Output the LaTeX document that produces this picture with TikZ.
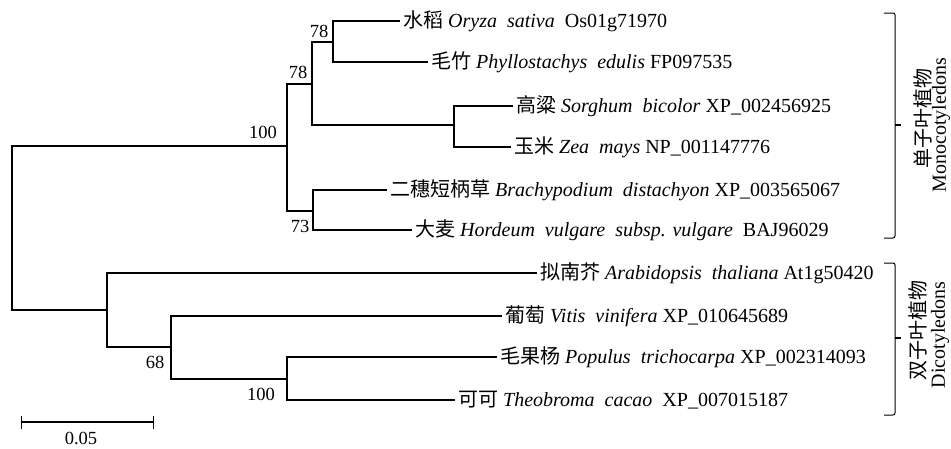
\documentclass[tikz,border=0pt]{standalone}
\usepackage{fontspec}
\setmainfont{Liberation Serif}
\newfontfamily\cjk{Noto Sans CJK SC}
\usetikzlibrary{arrows.meta}

\begin{document}
\begin{tikzpicture}[x=1pt,y=1pt,
        branch/.style={line width=1.1pt},
        leaf/.style={anchor=west,inner sep=3pt,font=\fontsize{20}{24}\selectfont},
        boot/.style={inner sep=0pt,font=\fontsize{18.5}{22}\selectfont},
        group/.style={rotate=90,inner sep=0pt,font=\fontsize{20}{24}\selectfont},
        brace/.style={line width=1pt,rounded corners=2pt},
    ]
        \useasboundingbox (0,0) rectangle (951,-448);

        % inner nodes
        \coordinate (root)  at (12,-228);
        \coordinate (mono)  at (287,-146);
        \coordinate (pooA)  at (312,-84);
        \coordinate (pooB)  at (333,-42);
        \coordinate (pani)  at (454,-125);
        \coordinate (pooC)  at (313,-211);
        \coordinate (dico)  at (107,-310);
        \coordinate (rosA)  at (171,-347);
        \coordinate (rosB)  at (287,-379);

        % monocots
        \node (oryza)   at (400,-21)  [leaf] {{\cjk 水稻} \textit{Oryza\ \ sativa}\ \ Os01g71970};
        \node (phyllo)  at (428,-62)  [leaf] {{\cjk 毛竹} \textit{Phyllostachys\ \ edulis} FP097535};
        \node (sorghum) at (513,-106) [leaf] {{\cjk 高粱} \textit{Sorghum\ \ bicolor} XP\_002456925};
        \node (zea)     at (511,-147) [leaf] {{\cjk 玉米} \textit{Zea\ \ mays} NP\_001147776};
        \node (brachy)  at (387,-190) [leaf] {{\cjk 二穗短柄草} \textit{Brachypodium\ \ distachyon} XP\_003565067};
        \node (hordeum) at (412,-230) [leaf] {{\cjk 大麦} \textit{Hordeum\ \ vulgare\ \ subsp. vulgare}\ \ BAJ96029};

        % dicots
        \node (arabid)  at (537,-273) [leaf] {{\cjk 拟南芥} \textit{Arabidopsis\ \ thaliana} At1g50420};
        \node (vitis)   at (502,-316) [leaf] {{\cjk 葡萄} \textit{Vitis\ \ vinifera} XP\_010645689};
        \node (populus) at (497,-357) [leaf] {{\cjk 毛果杨} \textit{Populus\ \ trichocarpa} XP\_002314093};
        \node (theo)    at (455,-400) [leaf] {{\cjk 可可} \textit{Theobroma\ \ cacao}\ \ XP\_007015187};

        % branches
        \draw[branch] (root) |- (mono);
        \draw[branch] (root) |- (dico);
        \draw[branch] (mono) |- (pooA);
        \draw[branch] (mono) |- (pooC);
        \draw[branch] (pooA) |- (pooB);
        \draw[branch] (pooA) |- (pani);
        \draw[branch] (pooB) |- (oryza.west);
        \draw[branch] (pooB) |- (phyllo.west);
        \draw[branch] (pani) |- (sorghum.west);
        \draw[branch] (pani) |- (zea.west);
        \draw[branch] (pooC) |- (brachy.west);
        \draw[branch] (pooC) |- (hordeum.west);
        \draw[branch] (dico) |- (arabid.west);
        \draw[branch] (dico) |- (rosA);
        \draw[branch] (rosA) |- (vitis.west);
        \draw[branch] (rosA) |- (rosB);
        \draw[branch] (rosB) |- (populus.west);
        \draw[branch] (rosB) |- (theo.west);

        % bootstrap values
        \node (bsB) at (319,-31)  [boot] {78};
        \node (bsA) at (298,-72)  [boot] {78};
        \node (bsM) at (263,-132) [boot] {100};
        \node (bsC) at (300,-226) [boot] {73};
        \node (bsR) at (155,-362) [boot] {68};
        \node (bsP) at (261,-394) [boot] {100};

        % scale bar
        \coordinate (barL) at (21,-422);
        \coordinate (barR) at (154,-422);
        \draw[branch,{Bar[width=13pt]}-{Bar[width=13pt]}] (barL) -- (barR);
        \node (barlab) at (81,-438) [boot] {0.05};

        % groups
        \draw[brace] (884,-13) -- (895,-13) -- (895,-238) -- (884,-238);
        \draw[branch] (895,-125) -- (901,-125);
        \node (monocn) at (923,-118) [group] {\cjk 单子叶植物};
        \node (monoen) at (941,-125) [group] {Monocotyledons};

        \draw[brace] (884,-263) -- (895,-263) -- (895,-415) -- (884,-415);
        \draw[branch] (895,-338) -- (901,-338);
        \node (dicocn) at (918,-330) [group] {\cjk 双子叶植物};
        \node (dicoen) at (940,-335) [group] {Dicotyledons};
    \end{tikzpicture}
\end{document}
